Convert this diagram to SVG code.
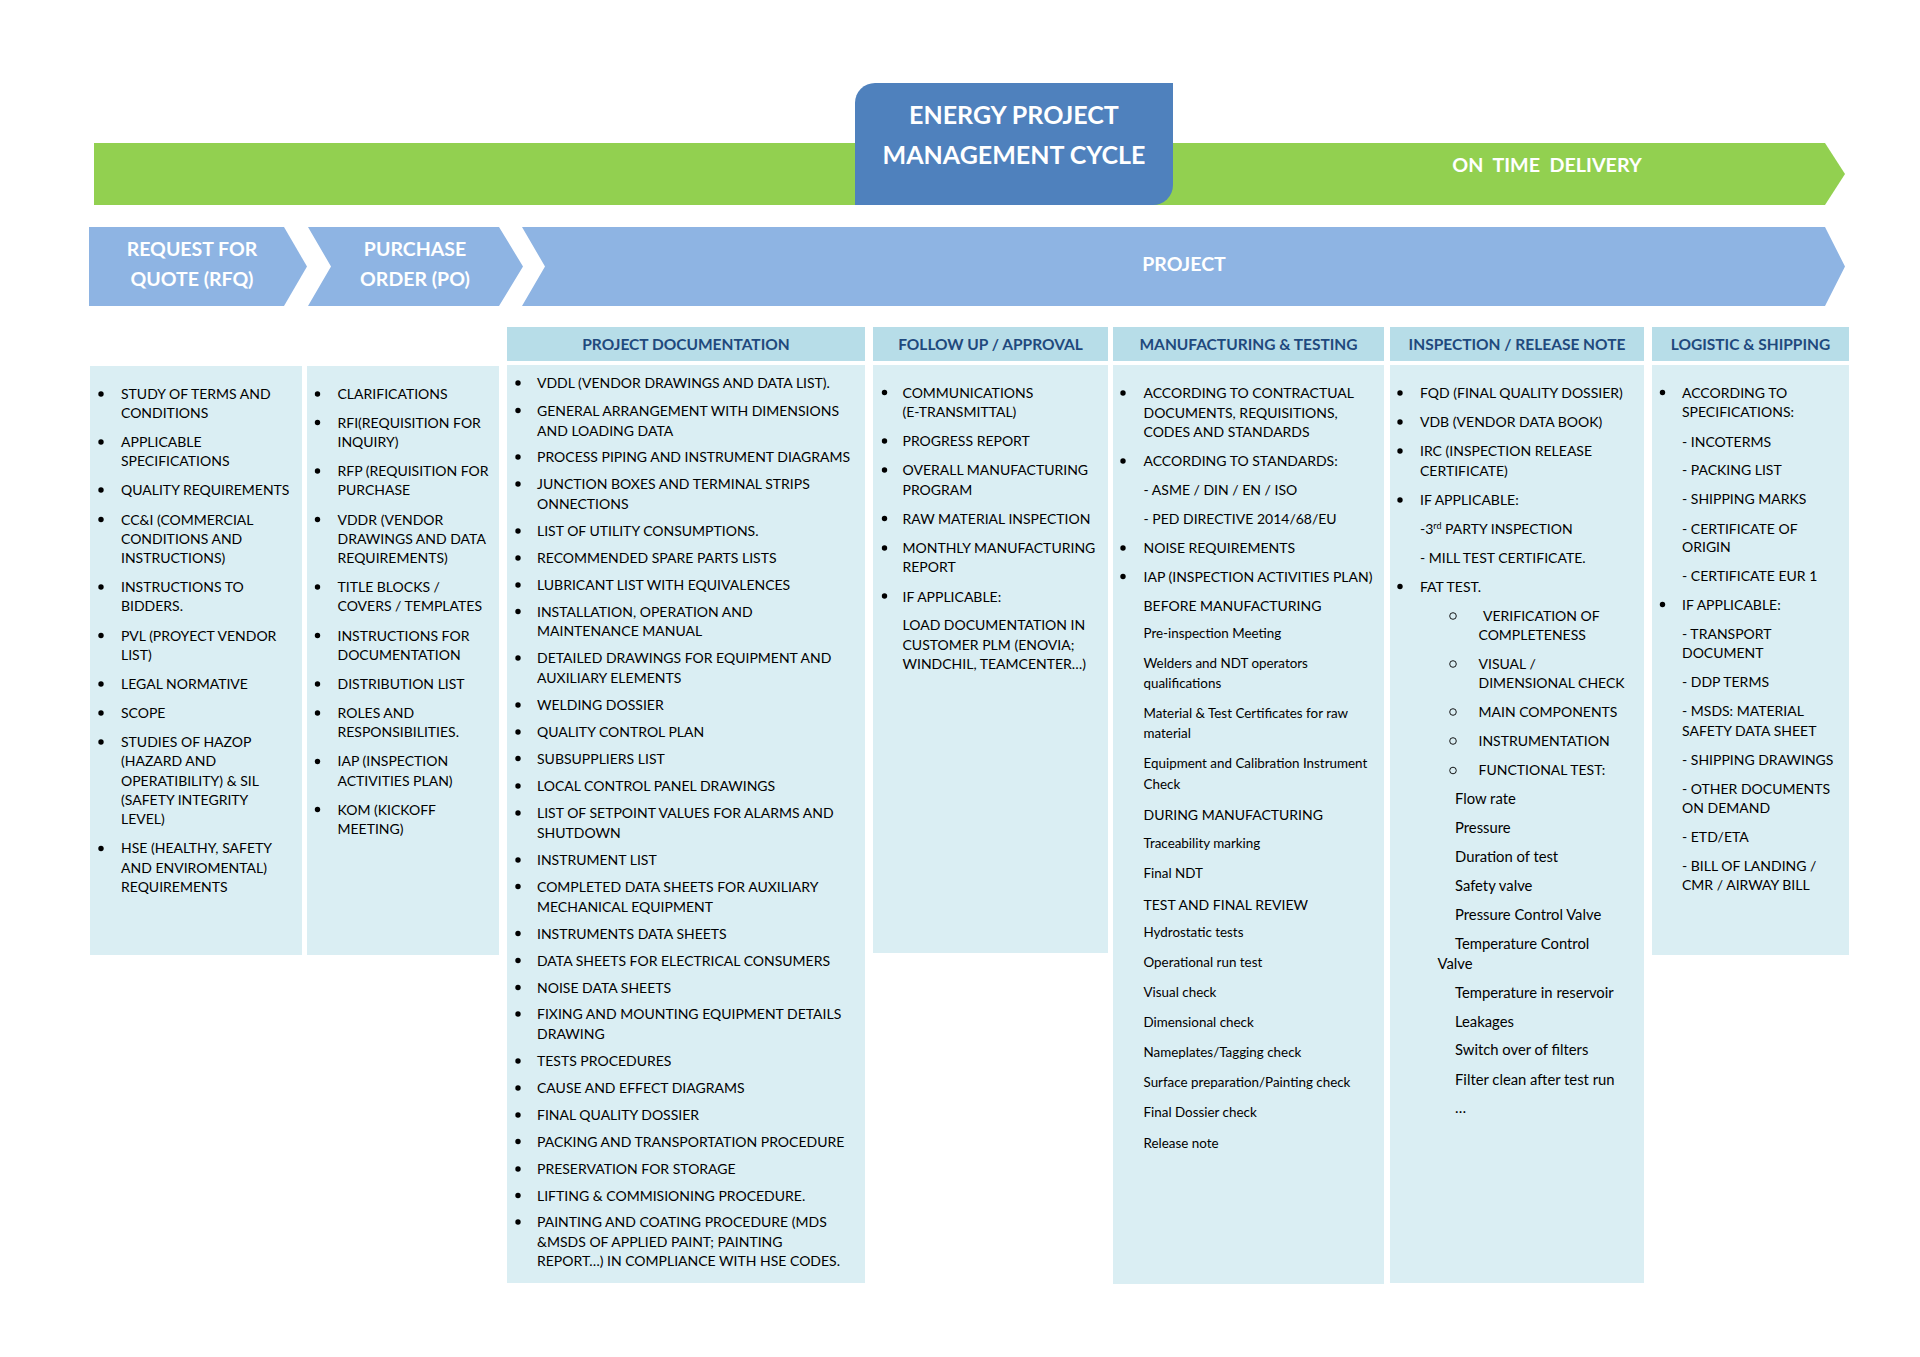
<svg xmlns="http://www.w3.org/2000/svg" width="1920" height="1357" viewBox="0 0 1920 1357">
<style>
text{font-family:Lato,"Open Sans","Liberation Sans",sans-serif;}
.t{font-size:14px;fill:#000;}
.m{font-size:14.8px;fill:#000;}
.s{font-size:13.4px;fill:#000;}
.h{font-size:15.5px;font-weight:bold;fill:#1F497D;text-anchor:middle;}
.w{font-weight:bold;fill:#fff;text-anchor:middle;}
.cell{fill:#DAEEF3;}
.head{fill:#B7DDE8;}
.chev{fill:#8EB4E3;}
.b{fill:#000;}
.o{fill:none;stroke:#000;stroke-width:0.9;}
</style>
<rect width="1920" height="1357" fill="#fff"/>

<g id="banner">
<polygon points="94,143 1825,143 1845,174 1825,205 94,205" fill="#92D050"/>
<text class="w" x="1547" y="172" font-size="19.7" style="white-space:pre">ON  TIME  DELIVERY</text>
</g>
<g id="title">
<path d="M855,103 A20,20 0 0 1 875,83 H1173 V185 A20,20 0 0 1 1153,205 H855 Z" fill="#4F81BD"/>
<text class="w" x="1014" y="124" font-size="25">ENERGY PROJECT</text>
<text class="w" x="1014" y="164" font-size="25">MANAGEMENT CYCLE</text>
</g>

<g id="rfq">
<polygon class="chev" points="89,227 284,227 307,266.5 284,306 89,306"/>
<text class="w" x="192" y="256" font-size="19.5">REQUEST FOR</text>
<text class="w" x="192" y="286" font-size="19.5">QUOTE (RFQ)</text>
</g>
<g id="po">
<polygon class="chev" points="308,227 499,227 523,266.5 499,306 308,306 331,266.5"/>
<text class="w" x="415" y="256" font-size="19.5">PURCHASE</text>
<text class="w" x="415" y="286" font-size="19.5">ORDER (PO)</text>
</g>
<g id="project">
<polygon class="chev" points="522,227 1825,227 1845,266.5 1825,306 522,306 545,266.5"/>
<text class="w" x="1184" y="271" font-size="19.5">PROJECT</text>
</g>

<g id="col-rfq">
<rect class="cell" x="90" y="366" width="212" height="589"/>
<g class="b">
<circle cx="101" cy="394" r="2.7"/><circle cx="101" cy="442" r="2.7"/><circle cx="101" cy="490" r="2.7"/><circle cx="101" cy="519.5" r="2.7"/><circle cx="101" cy="587" r="2.7"/><circle cx="101" cy="635.5" r="2.7"/><circle cx="101" cy="684" r="2.7"/><circle cx="101" cy="713" r="2.7"/><circle cx="101" cy="742" r="2.7"/><circle cx="101" cy="848.5" r="2.7"/>
</g>
<text class="t">
<tspan x="121" y="399">STUDY OF TERMS AND</tspan>
<tspan x="121" y="418">CONDITIONS</tspan>
<tspan x="121" y="447">APPLICABLE</tspan>
<tspan x="121" y="466">SPECIFICATIONS</tspan>
<tspan x="121" y="495">QUALITY REQUIREMENTS</tspan>
<tspan x="121" y="524.5">CC&amp;I (COMMERCIAL</tspan>
<tspan x="121" y="543.5">CONDITIONS AND</tspan>
<tspan x="121" y="563">INSTRUCTIONS)</tspan>
<tspan x="121" y="592">INSTRUCTIONS TO</tspan>
<tspan x="121" y="611">BIDDERS.</tspan>
<tspan x="121" y="640.5">PVL (PROYECT VENDOR</tspan>
<tspan x="121" y="659.5">LIST)</tspan>
<tspan x="121" y="688.5">LEGAL NORMATIVE</tspan>
<tspan x="121" y="718">SCOPE</tspan>
<tspan x="121" y="746.5">STUDIES OF HAZOP</tspan>
<tspan x="121" y="766">(HAZARD AND</tspan>
<tspan x="121" y="785.5">OPERATIBILITY) &amp; SIL</tspan>
<tspan x="121" y="804.5">(SAFETY INTEGRITY</tspan>
<tspan x="121" y="824">LEVEL)</tspan>
<tspan x="121" y="853">HSE (HEALTHY, SAFETY</tspan>
<tspan x="121" y="872.5">AND ENVIROMENTAL)</tspan>
<tspan x="121" y="892">REQUIREMENTS</tspan>
</text>
</g>

<g id="col-po">
<rect class="cell" x="307" y="366" width="192" height="589"/>
<g class="b">
<circle cx="317.5" cy="394" r="2.7"/><circle cx="317.5" cy="422.5" r="2.7"/><circle cx="317.5" cy="471" r="2.7"/><circle cx="317.5" cy="519.5" r="2.7"/><circle cx="317.5" cy="587" r="2.7"/><circle cx="317.5" cy="635.5" r="2.7"/><circle cx="317.5" cy="684" r="2.7"/><circle cx="317.5" cy="713" r="2.7"/><circle cx="317.5" cy="761.5" r="2.7"/><circle cx="317.5" cy="809.5" r="2.7"/>
</g>
<text class="t">
<tspan x="337.5" y="399">CLARIFICATIONS</tspan>
<tspan x="337.5" y="427.5">RFI(REQUISITION FOR</tspan>
<tspan x="337.5" y="447">INQUIRY)</tspan>
<tspan x="337.5" y="476">RFP (REQUISITION FOR</tspan>
<tspan x="337.5" y="495">PURCHASE</tspan>
<tspan x="337.5" y="524.5">VDDR (VENDOR</tspan>
<tspan x="337.5" y="543.5">DRAWINGS AND DATA</tspan>
<tspan x="337.5" y="563">REQUIREMENTS)</tspan>
<tspan x="337.5" y="592">TITLE BLOCKS /</tspan>
<tspan x="337.5" y="611">COVERS / TEMPLATES</tspan>
<tspan x="337.5" y="640.5">INSTRUCTIONS FOR</tspan>
<tspan x="337.5" y="659.5">DOCUMENTATION</tspan>
<tspan x="337.5" y="688.5">DISTRIBUTION LIST</tspan>
<tspan x="337.5" y="718">ROLES AND</tspan>
<tspan x="337.5" y="737">RESPONSIBILITIES.</tspan>
<tspan x="337.5" y="766">IAP (INSPECTION</tspan>
<tspan x="337.5" y="785.5">ACTIVITIES PLAN)</tspan>
<tspan x="337.5" y="814.5">KOM (KICKOFF</tspan>
<tspan x="337.5" y="833.5">MEETING)</tspan>
</text>
</g>

<g id="col-doc">
<rect class="head" x="507" y="327" width="358" height="34"/>
<text class="h" x="686" y="349.5">PROJECT DOCUMENTATION</text>
<rect class="cell" x="507" y="365" width="358" height="918"/>
<g class="b">
<circle cx="518" cy="383" r="2.7"/><circle cx="518" cy="410.5" r="2.7"/><circle cx="518" cy="457" r="2.7"/><circle cx="518" cy="484" r="2.7"/><circle cx="518" cy="531" r="2.7"/><circle cx="518" cy="558" r="2.7"/><circle cx="518" cy="585" r="2.7"/><circle cx="518" cy="611.5" r="2.7"/><circle cx="518" cy="658" r="2.7"/><circle cx="518" cy="705" r="2.7"/><circle cx="518" cy="732" r="2.7"/><circle cx="518" cy="758.5" r="2.7"/><circle cx="518" cy="786" r="2.7"/><circle cx="518" cy="813" r="2.7"/><circle cx="518" cy="860" r="2.7"/><circle cx="518" cy="886.5" r="2.7"/><circle cx="518" cy="933.5" r="2.7"/><circle cx="518" cy="960.5" r="2.7"/><circle cx="518" cy="987.5" r="2.7"/><circle cx="518" cy="1014" r="2.7"/><circle cx="518" cy="1061" r="2.7"/><circle cx="518" cy="1088" r="2.7"/><circle cx="518" cy="1115" r="2.7"/><circle cx="518" cy="1141.5" r="2.7"/><circle cx="518" cy="1169" r="2.7"/><circle cx="518" cy="1195.5" r="2.7"/><circle cx="518" cy="1222" r="2.7"/>
</g>
<text class="t">
<tspan x="537" y="388">VDDL (VENDOR DRAWINGS AND DATA LIST).</tspan>
<tspan x="537" y="415.5">GENERAL ARRANGEMENT WITH DIMENSIONS</tspan>
<tspan x="537" y="435.5">AND LOADING DATA</tspan>
<tspan x="537" y="462">PROCESS PIPING AND INSTRUMENT DIAGRAMS</tspan>
<tspan x="537" y="489">JUNCTION BOXES AND TERMINAL STRIPS</tspan>
<tspan x="537" y="509">ONNECTIONS</tspan>
<tspan x="537" y="536">LIST OF UTILITY CONSUMPTIONS.</tspan>
<tspan x="537" y="563">RECOMMENDED SPARE PARTS LISTS</tspan>
<tspan x="537" y="590">LUBRICANT LIST WITH EQUIVALENCES</tspan>
<tspan x="537" y="616.5">INSTALLATION, OPERATION AND</tspan>
<tspan x="537" y="636">MAINTENANCE MANUAL</tspan>
<tspan x="537" y="663">DETAILED DRAWINGS FOR EQUIPMENT AND</tspan>
<tspan x="537" y="683">AUXILIARY ELEMENTS</tspan>
<tspan x="537" y="710">WELDING DOSSIER</tspan>
<tspan x="537" y="737">QUALITY CONTROL PLAN</tspan>
<tspan x="537" y="763.5">SUBSUPPLIERS LIST</tspan>
<tspan x="537" y="791">LOCAL CONTROL PANEL DRAWINGS</tspan>
<tspan x="537" y="818">LIST OF SETPOINT VALUES FOR ALARMS AND</tspan>
<tspan x="537" y="838">SHUTDOWN</tspan>
<tspan x="537" y="865">INSTRUMENT LIST</tspan>
<tspan x="537" y="891.5">COMPLETED DATA SHEETS FOR AUXILIARY</tspan>
<tspan x="537" y="911.5">MECHANICAL EQUIPMENT</tspan>
<tspan x="537" y="938.5">INSTRUMENTS DATA SHEETS</tspan>
<tspan x="537" y="965.5">DATA SHEETS FOR ELECTRICAL CONSUMERS</tspan>
<tspan x="537" y="992.5">NOISE DATA SHEETS</tspan>
<tspan x="537" y="1019">FIXING AND MOUNTING EQUIPMENT DETAILS</tspan>
<tspan x="537" y="1039">DRAWING</tspan>
<tspan x="537" y="1066">TESTS PROCEDURES</tspan>
<tspan x="537" y="1093">CAUSE AND EFFECT DIAGRAMS</tspan>
<tspan x="537" y="1120">FINAL QUALITY DOSSIER</tspan>
<tspan x="537" y="1146.5">PACKING AND TRANSPORTATION PROCEDURE</tspan>
<tspan x="537" y="1174">PRESERVATION FOR STORAGE</tspan>
<tspan x="537" y="1200.5">LIFTING &amp; COMMISIONING PROCEDURE.</tspan>
<tspan x="537" y="1227">PAINTING AND COATING PROCEDURE (MDS</tspan>
<tspan x="537" y="1246.5">&amp;MSDS OF APPLIED PAINT; PAINTING</tspan>
<tspan x="537" y="1266">REPORT…) IN COMPLIANCE WITH HSE CODES.</tspan>
</text>
</g>

<g id="col-follow">
<rect class="head" x="873" y="327" width="235" height="34"/>
<text class="h" x="990.5" y="349.5">FOLLOW UP / APPROVAL</text>
<rect class="cell" x="873" y="365" width="235" height="588"/>
<g class="b">
<circle cx="884.5" cy="392.5" r="2.7"/><circle cx="884.5" cy="441" r="2.7"/><circle cx="884.5" cy="470" r="2.7"/><circle cx="884.5" cy="518.5" r="2.7"/><circle cx="884.5" cy="548" r="2.7"/><circle cx="884.5" cy="596" r="2.7"/>
</g>
<text class="t">
<tspan x="902.5" y="397.5">COMMUNICATIONS</tspan>
<tspan x="902.5" y="417">(E-TRANSMITTAL)</tspan>
<tspan x="902.5" y="446">PROGRESS REPORT</tspan>
<tspan x="902.5" y="475">OVERALL MANUFACTURING</tspan>
<tspan x="902.5" y="494.5">PROGRAM</tspan>
<tspan x="902.5" y="523.5">RAW MATERIAL INSPECTION</tspan>
<tspan x="902.5" y="553">MONTHLY MANUFACTURING</tspan>
<tspan x="902.5" y="572">REPORT</tspan>
<tspan x="902.5" y="601.5">IF APPLICABLE:</tspan>
<tspan x="902.5" y="630">LOAD DOCUMENTATION IN</tspan>
<tspan x="902.5" y="649.5">CUSTOMER PLM (ENOVIA;</tspan>
<tspan x="902.5" y="668.5">WINDCHIL, TEAMCENTER…)</tspan>
</text>
</g>

<g id="col-manufacturing">
<rect class="head" x="1113" y="327" width="271" height="34"/>
<text class="h" x="1248.5" y="349.5">MANUFACTURING &amp; TESTING</text>
<rect class="cell" x="1113" y="365" width="271" height="919"/>
<g class="b">
<circle cx="1123" cy="393" r="2.7"/><circle cx="1123" cy="461" r="2.7"/><circle cx="1123" cy="548" r="2.7"/><circle cx="1123" cy="576.5" r="2.7"/>
</g>
<text class="t">
<tspan x="1143.5" y="398">ACCORDING TO CONTRACTUAL</tspan>
<tspan x="1143.5" y="417.5">DOCUMENTS, REQUISITIONS,</tspan>
<tspan x="1143.5" y="437">CODES AND STANDARDS</tspan>
<tspan x="1143.5" y="466">ACCORDING TO STANDARDS:</tspan>
<tspan x="1143.5" y="495">- ASME / DIN / EN / ISO</tspan>
<tspan x="1143.5" y="523.5">- PED DIRECTIVE 2014/68/EU</tspan>
<tspan x="1143.5" y="553">NOISE REQUIREMENTS</tspan>
<tspan x="1143.5" y="581.5">IAP (INSPECTION ACTIVITIES PLAN)</tspan>
<tspan x="1143.5" y="610.5">BEFORE MANUFACTURING</tspan>
<tspan x="1143.5" y="820">DURING MANUFACTURING</tspan>
<tspan x="1143.5" y="910">TEST AND FINAL REVIEW</tspan>
</text>
<text class="s">
<tspan x="1143.5" y="637.5">Pre-inspection Meeting</tspan>
<tspan x="1143.5" y="667.5">Welders and NDT operators</tspan>
<tspan x="1143.5" y="687.5">qualifications</tspan>
<tspan x="1143.5" y="717.5">Material &amp; Test Certificates for raw</tspan>
<tspan x="1143.5" y="738">material</tspan>
<tspan x="1143.5" y="768">Equipment and Calibration Instrument</tspan>
<tspan x="1143.5" y="788.5">Check</tspan>
<tspan x="1143.5" y="848">Traceability marking</tspan>
<tspan x="1143.5" y="878">Final NDT</tspan>
<tspan x="1143.5" y="937">Hydrostatic tests</tspan>
<tspan x="1143.5" y="967">Operational run test</tspan>
<tspan x="1143.5" y="997">Visual check</tspan>
<tspan x="1143.5" y="1027">Dimensional check</tspan>
<tspan x="1143.5" y="1057">Nameplates/Tagging check</tspan>
<tspan x="1143.5" y="1087">Surface preparation/Painting check</tspan>
<tspan x="1143.5" y="1117">Final Dossier check</tspan>
<tspan x="1143.5" y="1147.5">Release note</tspan>
</text>
</g>

<g id="col-inspection">
<rect class="head" x="1390" y="327" width="254" height="34"/>
<text class="h" x="1517" y="349.5">INSPECTION / RELEASE NOTE</text>
<rect class="cell" x="1390" y="365" width="254" height="918"/>
<g class="b">
<circle cx="1400" cy="393" r="2.7"/><circle cx="1400" cy="422" r="2.7"/><circle cx="1400" cy="451" r="2.7"/><circle cx="1400" cy="500" r="2.7"/><circle cx="1400" cy="586.5" r="2.7"/>
</g>
<g class="o">
<circle cx="1453" cy="616" r="3.3"/><circle cx="1453" cy="664" r="3.3"/><circle cx="1453" cy="712" r="3.3"/><circle cx="1453" cy="741" r="3.3"/><circle cx="1453" cy="770.5" r="3.3"/>
</g>
<text class="t">
<tspan x="1420" y="398">FQD (FINAL QUALITY DOSSIER)</tspan>
<tspan x="1420" y="427">VDB (VENDOR DATA BOOK)</tspan>
<tspan x="1420" y="456">IRC (INSPECTION RELEASE</tspan>
<tspan x="1420" y="475.5">CERTIFICATE)</tspan>
<tspan x="1420" y="505">IF APPLICABLE:</tspan>
<tspan x="1420" y="533.5">-3<tspan font-size="9" dy="-5">rd</tspan><tspan dy="5"> PARTY INSPECTION</tspan></tspan>
<tspan x="1420" y="562.5">- MILL TEST CERTIFICATE.</tspan>
<tspan x="1420" y="591.5">FAT TEST.</tspan>
<tspan x="1483" y="620.5">VERIFICATION OF</tspan>
<tspan x="1478.5" y="639.5">COMPLETENESS</tspan>
<tspan x="1478.5" y="668.5">VISUAL /</tspan>
<tspan x="1478.5" y="688">DIMENSIONAL CHECK</tspan>
<tspan x="1478.5" y="716.5">MAIN COMPONENTS</tspan>
<tspan x="1478.5" y="745.5">INSTRUMENTATION</tspan>
<tspan x="1478.5" y="775">FUNCTIONAL TEST:</tspan>
</text>
<text class="m">
<tspan x="1455" y="803.5">Flow rate</tspan>
<tspan x="1455" y="832.5">Pressure</tspan>
<tspan x="1455" y="862">Duration of test</tspan>
<tspan x="1455" y="891">Safety valve</tspan>
<tspan x="1455" y="920">Pressure Control Valve</tspan>
<tspan x="1455" y="949">Temperature Control</tspan>
<tspan x="1437.5" y="968.5">Valve</tspan>
<tspan x="1455" y="997.5">Temperature in reservoir</tspan>
<tspan x="1455" y="1026.5">Leakages</tspan>
<tspan x="1455" y="1055">Switch over of filters</tspan>
<tspan x="1455" y="1084.5">Filter clean after test run</tspan>
<tspan x="1455" y="1113">…</tspan>
</text>
</g>

<g id="col-logistic">
<rect class="head" x="1652" y="327" width="197" height="34"/>
<text class="h" x="1750.5" y="349.5">LOGISTIC &amp; SHIPPING</text>
<rect class="cell" x="1652" y="365" width="197" height="590"/>
<g class="b">
<circle cx="1662.5" cy="392.5" r="2.7"/><circle cx="1662.5" cy="604.5" r="2.7"/>
</g>
<text class="t">
<tspan x="1682" y="397.5">ACCORDING TO</tspan>
<tspan x="1682" y="417">SPECIFICATIONS:</tspan>
<tspan x="1682" y="446.5">- INCOTERMS</tspan>
<tspan x="1682" y="474.5">- PACKING LIST</tspan>
<tspan x="1682" y="504">- SHIPPING MARKS</tspan>
<tspan x="1682" y="533.5">- CERTIFICATE OF</tspan>
<tspan x="1682" y="552">ORIGIN</tspan>
<tspan x="1682" y="581">- CERTIFICATE EUR 1</tspan>
<tspan x="1682" y="609.5">IF APPLICABLE:</tspan>
<tspan x="1682" y="638.5">- TRANSPORT</tspan>
<tspan x="1682" y="658">DOCUMENT</tspan>
<tspan x="1682" y="686.5">- DDP TERMS</tspan>
<tspan x="1682" y="715.5">- MSDS: MATERIAL</tspan>
<tspan x="1682" y="735.5">SAFETY DATA SHEET</tspan>
<tspan x="1682" y="764.5">- SHIPPING DRAWINGS</tspan>
<tspan x="1682" y="793.5">- OTHER DOCUMENTS</tspan>
<tspan x="1682" y="812.5">ON DEMAND</tspan>
<tspan x="1682" y="842">- ETD/ETA</tspan>
<tspan x="1682" y="871">- BILL OF LANDING /</tspan>
<tspan x="1682" y="890">CMR / AIRWAY BILL</tspan>
</text>
</g>
</svg>
